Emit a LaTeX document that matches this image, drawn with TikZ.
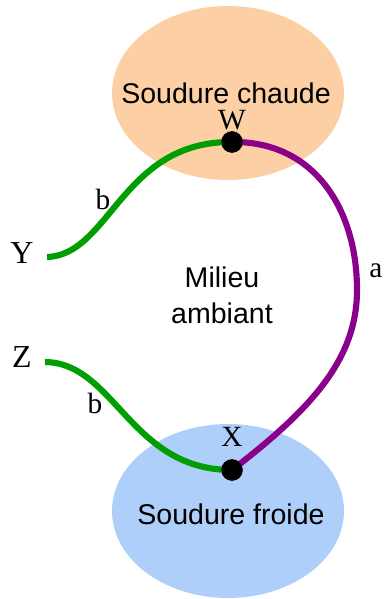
\documentclass[tikz,border=0pt]{standalone}
\usepackage{fontspec}
\setmainfont{Liberation Serif}
\newfontfamily\sansf{Liberation Sans}
\usetikzlibrary{shapes.geometric}
\definecolor{hotc}{RGB}{252,208,164}
\definecolor{coldc}{RGB}{173,207,250}
\definecolor{wireg}{RGB}{0,158,0}
\definecolor{wirep}{RGB}{139,0,139}
\tikzset{
  weld/.style={ellipse, draw=none, minimum width=174pt, minimum height=130.5pt, inner sep=0pt},
  weldtext/.style={inner sep=0pt, font=\sansf\fontsize{21.4}{26}\selectfont},
  junction/.style={circle, fill=black, minimum size=16pt, inner sep=0pt},
  serlab/.style={inner sep=0pt, font=\fontsize{22}{26}\selectfont},
  endlab/.style={inner sep=0pt, font=\fontsize{24}{28}\selectfont},
  wireb/.style={line width=4.6pt, wireg},
  wirea/.style={line width=4.6pt, wirep},
}
\begin{document}
\begin{tikzpicture}[x=0.75pt,y=-0.75pt]
\useasboundingbox (0,0) rectangle (383,599);
\node[weld, fill=hotc] (hot) at (228,93) {};
\node[weld, fill=coldc] (cold) at (228,511) {};
\node[weldtext] (hottext) at (226,93) {Soudure chaude};
\node[weldtext] (coldtext) at (231,514) {Soudure froide};
\node[align=center, inner sep=0pt, font=\sansf\fontsize{21.4}{27}\selectfont] (amb) at (222,295) {Milieu\\ambiant};
\coordinate (yend) at (47,257);
\coordinate (zend) at (45,362);
\node[junction] (W) at (232,142) {};
\node[junction] (X) at (232,470) {};
\draw[wireb] (yend) .. controls (110,255) and (122,141) .. (W.center);
\draw[wireb] (zend) .. controls (115,363) and (130,470) .. (X.center);
\draw[wirea] (W.center) .. controls (315,141) and (357,210) .. (357,290)
  .. controls (357,360) and (310,410) .. (X.center);
\node[junction] at (W) {};
\node[junction] at (X) {};
\node[serlab] (Wl) at (232,120) {W};
\node[serlab] (Xl) at (232,437) {X};
\node[endlab] (Y) at (22,253) {Y};
\node[endlab] (Z) at (22,357) {Z};
\node[serlab] (b1) at (103,199) {b};
\node[serlab] (b2) at (95,403) {b};
\node[serlab] (a) at (376,271) {a};
\end{tikzpicture}
\end{document}
